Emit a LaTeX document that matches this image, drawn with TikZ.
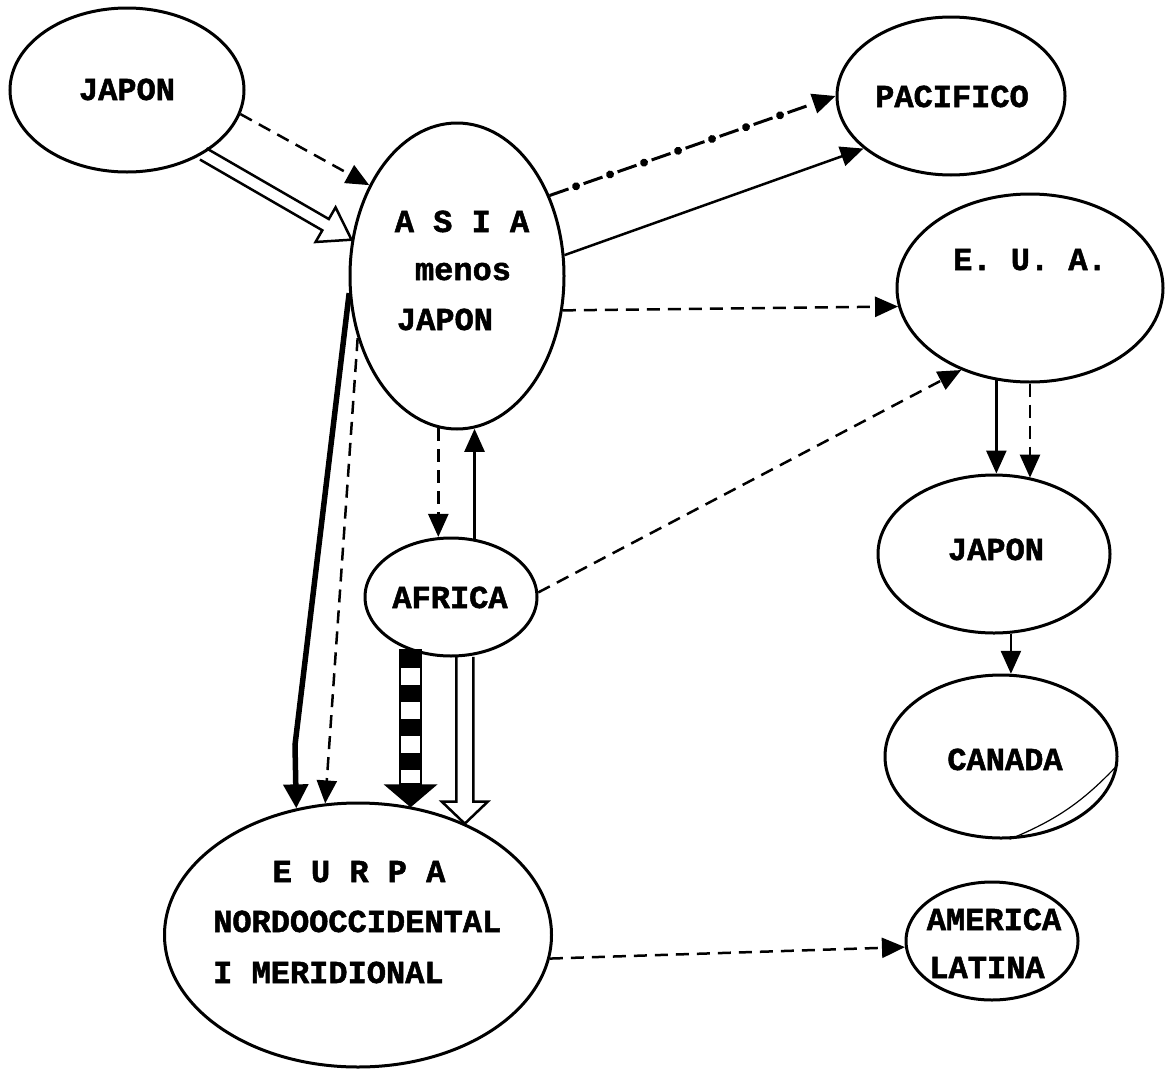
\documentclass[tikz,border=0pt]{standalone}
\usepackage{fontspec}
\newfontfamily\twfont{Liberation Mono}[BoldFeatures={FakeBold=1.6}]
\usetikzlibrary{shapes.geometric,arrows.meta,calc,decorations.markings}

\tikzset{
  region/.style 2 args={draw, ellipse, line width=3pt, inner sep=0pt,
    minimum width=#1, minimum height=#2},
  lbl/.style={font=\twfont\bfseries\fontsize{32}{36}\selectfont, inner sep=0pt, anchor=base},
  lblw/.style={lbl, anchor=base west},
  arr/.style={line width=2.5pt, -{Triangle[length=23pt,width=20pt]}},
  dsh/.style={arr, dash pattern=on 13pt off 8pt},
  thickarr/.style={line width=5.5pt, -{Triangle[length=24pt,width=24pt]}},
  hollowline/.style={line width=2.5pt, line join=miter},
  dotdash/.style={arr, line width=3pt, dash pattern=on 20pt off 16pt,
    postaction={decorate, decoration={markings,
      mark=between positions 28pt and -30pt step 36pt with {\fill (0,0) circle (4pt);}}}},
  stray/.style={line width=1.2pt}
}

\newcommand\hollowarr[5]{%
  \path (#1) coordinate (hS) (#2) coordinate (hT);
  \coordinate (hB) at ($(hT)!#5!(hS)$);
  \draw[hollowline] ($(hS)!#3!90:(hT)$) -- ($(hB)!#3!-90:(hS)$) -- ($(hB)!#4!-90:(hS)$)
     -- (hT) -- ($(hB)!#4!90:(hS)$) -- ($(hB)!#3!90:(hS)$) -- ($(hS)!#3!-90:(hT)$);
}

\begin{document}
\begin{tikzpicture}[x=1pt,y=-1pt]
\useasboundingbox (0,0) rectangle (1165,1071);

% regions
\node[region={234pt}{164pt}] (japonA) at (127,90) {};
\node[region={214pt}{306pt}] (asia)   at (457,276) {};
\node[region={228pt}{158pt}] (pac)    at (951,96) {};
\node[region={266pt}{188pt}] (eua)    at (1030,288) {};
\node[region={232pt}{158pt}] (japonB) at (994,554) {};
\node[region={232pt}{163pt}] (canada) at (1001,756.5) {};
\node[region={172pt}{118pt}] (africa) at (451,597) {};
\node[region={387pt}{264pt}] (europa) at (358,935) {};
\node[region={172pt}{118pt}] (amer)   at (992,941) {};

% labels
\node[lbl] (tJapA) at (127,100) {JAPON};
\node[lbl] (tAsia1) at (462,232) {A S I A};
\node[lbl] (tAsia2) at (463,280) {menos};
\node[lbl] (tAsia3) at (445,330) {JAPON};
\node[lbl] (tPac) at (952,107) {PACIFICO};
\node[lbl] (tEua) at (1030,270) {E. U. A.};
\node[lbl] (tJapB) at (996,560) {JAPON};
\node[lbl] (tCan) at (1005,770) {CANADA};
\node[lbl] (tAfr) at (450,608) {AFRICA};
\node[lbl] (tEur1) at (359,882) {E U R P A};
\node[lblw] (tEur2) at (213,932) {NORDOOCCIDENTAL};
\node[lblw] (tEur3) at (213,983) {I MERIDIONAL};
\node[lbl] (tAm1) at (994,930) {AMERICA};
\node[lbl] (tAm2) at (987,978) {LATINA};

% connectors
\draw[dsh] (japonA.-12.5) -- (asia.134);
\hollowarr{japonA.-40.5}{asia.161.4}{6.5pt}{20pt}{30pt}

\draw[dotdash] (asia.41.8) -- (pac.180);
\draw[arr] (asia.11.3) -- (pac.211.5);
\draw[dsh] (asia.-18.8) -- (eua.188);
\draw[dsh] (africa.3) -- (eua.230.3);

\draw[arr] (eua.250.7) -- (eua.250.7 |- japonB.87.1);
\draw[dsh] (eua.south) -- (eua.south |- japonB.64.4);
\draw[arr] (japonB.-78.4) -- (japonB.-78.4 |- canada.83.7);

\draw[dsh] (asia.263.6) -- (asia.263.6 |- africa.100.6);
\draw[arr] (africa.68.9) -- (africa.68.9 |- asia.-84);

\draw[thickarr] (asia.189) -- (295,745) -- (europa.116);
\draw[dsh] (asia.212.6) -- (europa.104.2);

% checkered arrow
\coordinate (ck1) at (africa.233.4);
\coordinate (ck2) at (ck1 |- europa.66.9);
\coordinate (ck3) at ($(ck2)+(0,-23)$);
\draw[line width=21pt, dash pattern=on 17pt off 17pt] (ck1) -- (ck3);
\draw[line width=2.5pt] ($(ck1)+(-10.5,0)$) rectangle ($(ck3)+(10.5,0)$);
\fill ($(ck3)+(-27,0)$) -- ($(ck3)+(27,0)$) -- (ck2) -- cycle;

\hollowarr{africa.-77.4}{africa.-77.4 |- europa.46.2}{8.5pt}{23pt}{22pt}

\draw[dsh] (europa.-7.5) -- (amer.184.7);

% pen stroke inside CANADA
\draw[stray] (canada.-4) to[bend left=12] (canada.-84);
\end{tikzpicture}
\end{document}
